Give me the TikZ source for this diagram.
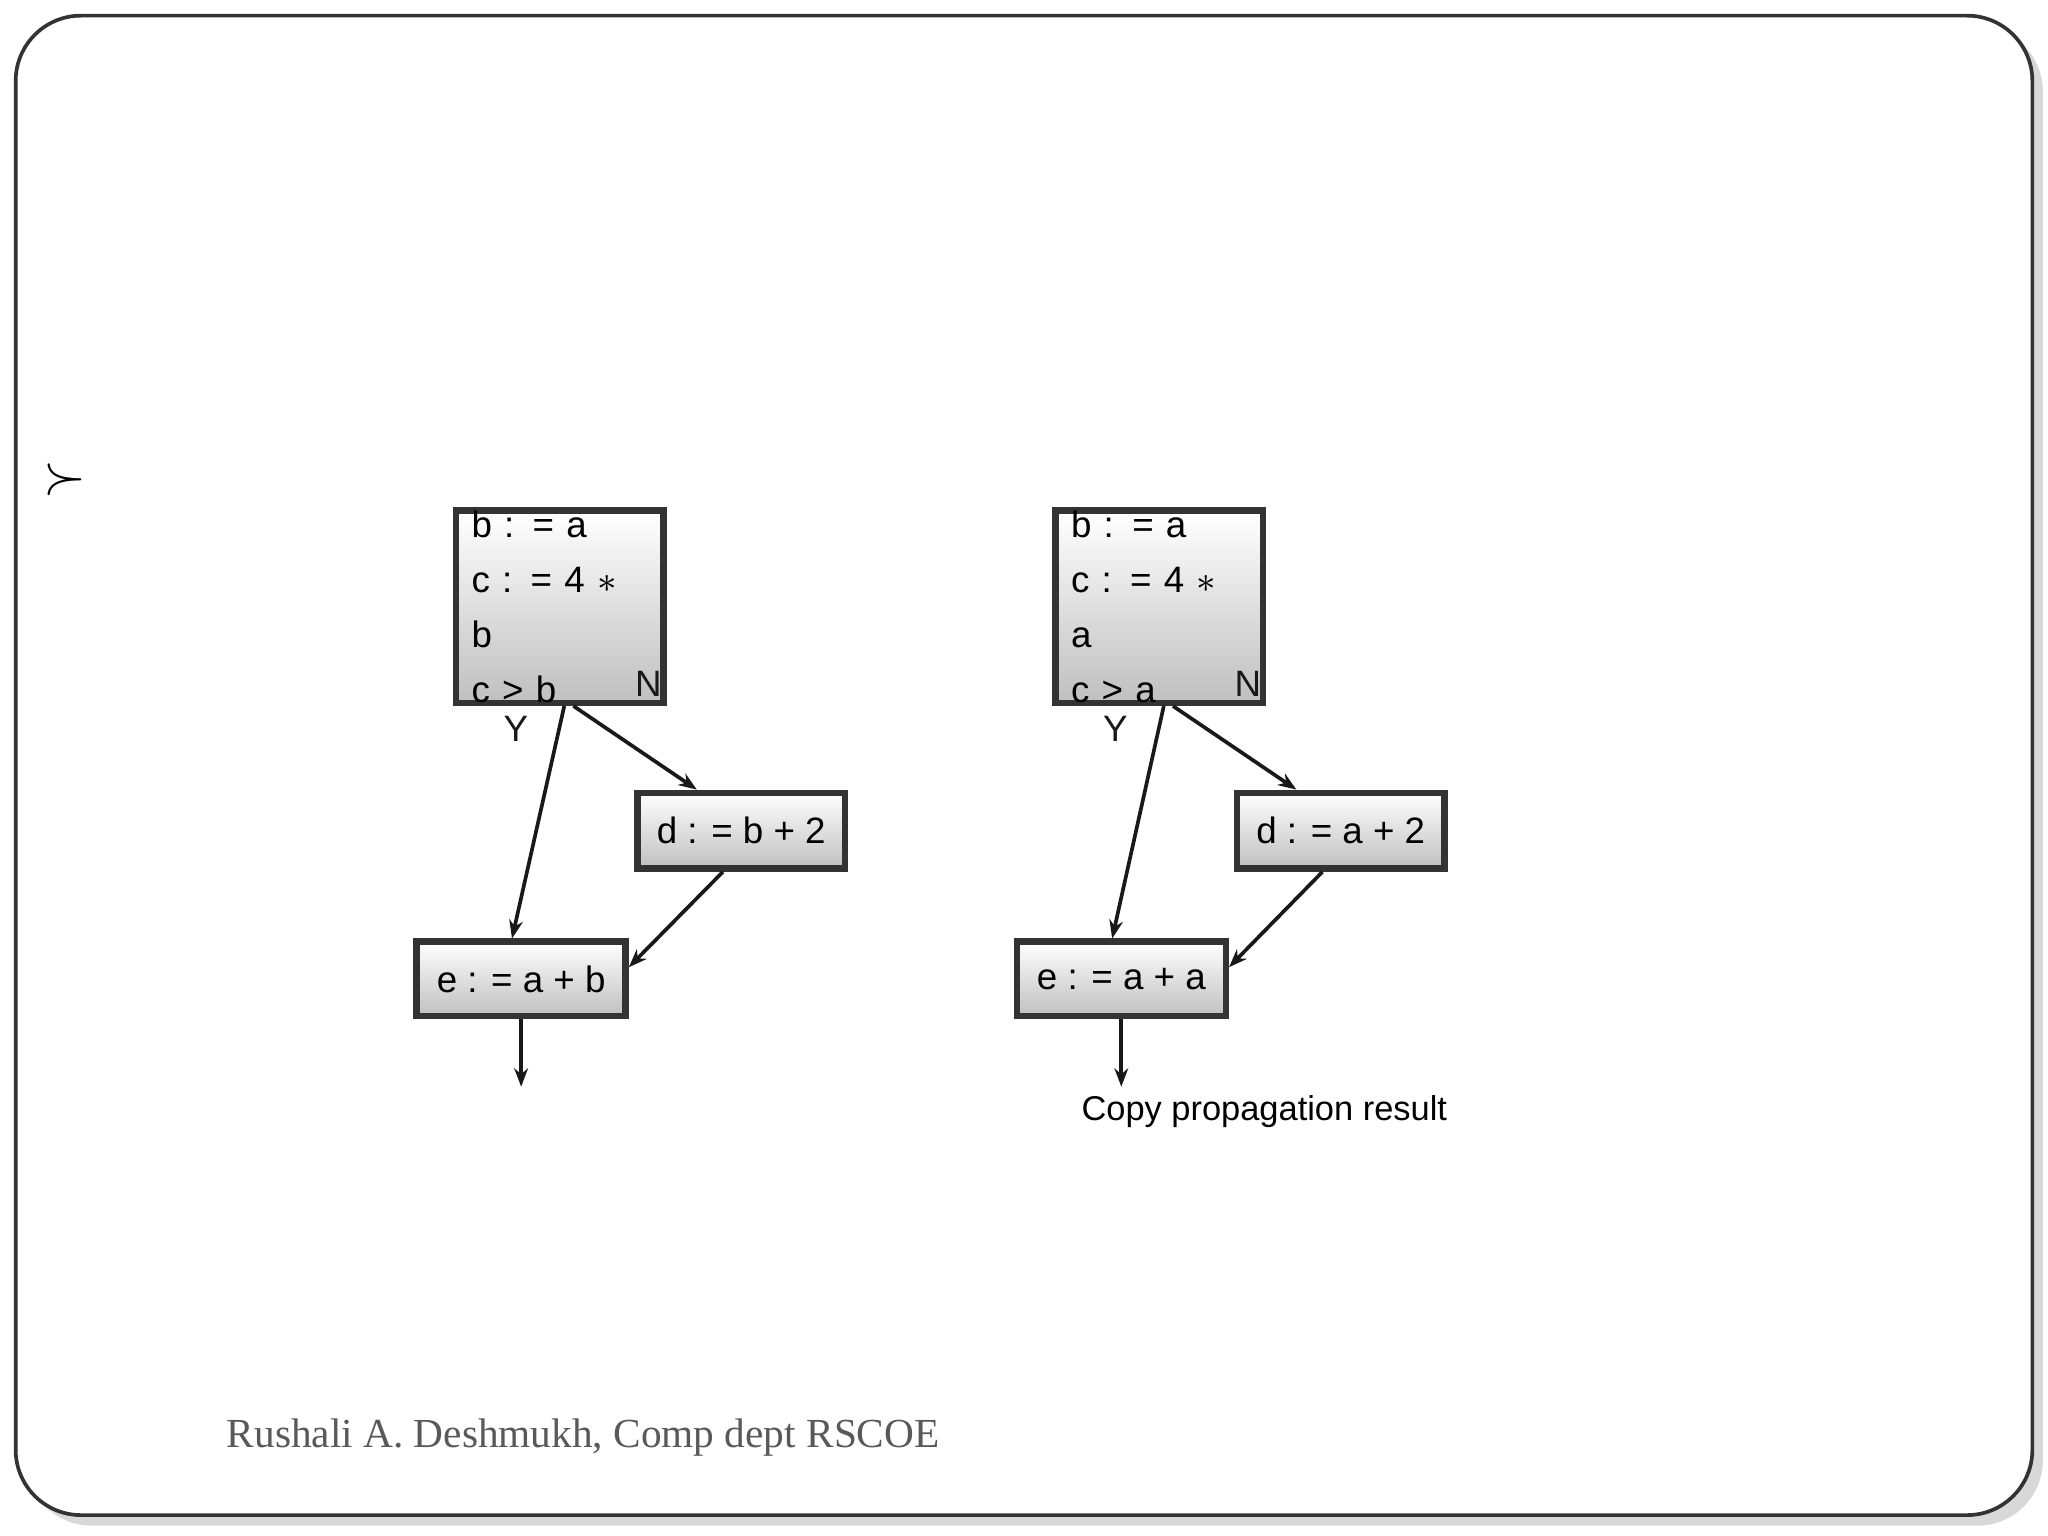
\documentclass[tikz,border=0pt]{standalone}
\usepackage{fontspec}
\newfontfamily\diagfont{Liberation Sans}
\setmainfont{Liberation Serif}
\usetikzlibrary{arrows.meta,shadows}

\tikzset{
  blk/.style={draw=black!80, line width=1.4pt, top color=white, bottom color=black!25,
    font=\diagfont\fontsize{8}{12}\selectfont, inner sep=0pt, align=left},
  edge/.style={-{Stealth[length=4pt,width=3pt]}, line width=0.8pt, black!90},
  lbl/.style={font=\diagfont\fontsize{8}{9}\selectfont}
}

\begin{document}
\begin{tikzpicture}[y=-1cm]
\useasboundingbox (0,0) rectangle (15.68,11.76);
\fill [white] (0,0) rectangle (15.68,11.76);

% slide frame
\draw [black!80, line width=0.8pt, rounded corners=0.5cm, drop shadow={opacity=0.3}, fill=white]
    (0.12,0.12) rectangle (15.56,11.60);
\node [font=\large] (bul) at (0.5,3.67) {$\succ$};

% left flow graph (original)
\node [blk, minimum width=1.59cm, minimum height=1.17cm, text width=1.35cm] (a1) at (4.285,4.645)
  {b : = a\\c : = 4 $*$ b\\c > b};
\node [blk, minimum width=1.59cm, minimum height=0.58cm, align=center] (a2) at (5.675,6.36) {d : = b + 2};
\node [blk, minimum width=1.60cm, minimum height=0.57cm, align=center] (a3) at (3.99,7.495) {e : = a + b};
\coordinate (aout) at (3.99,8.32);

\draw [edge] ([xshift=1pt]a1.south) -- ([xshift=-0.07cm]a3.north) node [lbl, pos=0.1, left=3pt] {Y};
\draw [edge] ([xshift=3pt]a1.south) -- ([xshift=-0.34cm]a2.north) node [lbl, pos=0.25, above right=3pt] {N};
\draw [edge] ([xshift=-0.14cm]a2.south) -- ([yshift=0.09cm]a3.east);
\draw [edge] (a3.south) -- (aout);

% right flow graph (after copy propagation)
\node [blk, minimum width=1.59cm, minimum height=1.17cm, text width=1.35cm] (b1) at (8.875,4.645)
  {b : = a\\c : = 4 $*$ a\\c > a};
\node [blk, minimum width=1.59cm, minimum height=0.58cm, align=center] (b2) at (10.265,6.36) {d : = a + 2};
\node [blk, minimum width=1.60cm, minimum height=0.57cm, align=center] (b3) at (8.585,7.495) {e : = a + a};
\coordinate (bout) at (8.585,8.32);

\draw [edge] ([xshift=1pt]b1.south) -- ([xshift=-0.07cm]b3.north) node [lbl, pos=0.1, left=3pt] {Y};
\draw [edge] ([xshift=3pt]b1.south) -- ([xshift=-0.34cm]b2.north) node [lbl, pos=0.25, above right=3pt] {N};
\draw [edge] ([xshift=-0.14cm]b2.south) -- ([yshift=0.09cm]b3.east);
\draw [edge] (b3.south) -- (bout);

\node [font=\diagfont\fontsize{7.5}{9}\selectfont] (cap) at (9.68,8.51) {Copy propagation result};

% footer
\node [font=\fontsize{9}{11}\selectfont, text=black!65, anchor=west, inner sep=0pt] (foot) at (1.73,11.01)
  {Rushali A. Deshmukh, Comp dept RSCOE};
\end{tikzpicture}
\end{document}
